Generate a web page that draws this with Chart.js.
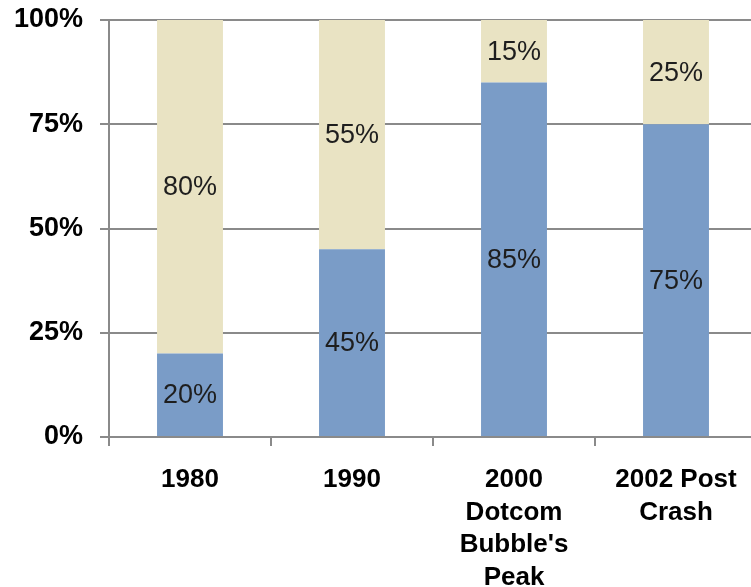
<!DOCTYPE html>
<html>
<head>
<meta charset="utf-8">
<script src="https://cdn.jsdelivr.net/npm/chart.js@4.4.1/dist/chart.umd.min.js"></script>
<style>
  html, body { margin: 0; padding: 0; background: #fff; overflow: hidden; }
  #wrap { position: relative; width: 757px; height: 587px; }
</style>
</head>
<body>
<div id="wrap"><canvas id="c"></canvas></div>
<script>
const categories = [["1980"], ["1990"], ["2000", "Dotcom", "Bubble's", "Peak"], ["2002 Post", "Crash"]];
const lowerValues = [20, 45, 85, 75];
const upperValues = [80, 55, 15, 25];
const yTicks = [0, 25, 50, 75, 100];

const FONT = "'Liberation Sans', Arial, sans-serif";

const labelPlugin = {
  id: 'segLabels',
  afterDatasetsDraw(chart) {
    const ctx = chart.ctx;
    ctx.save();
    ctx.font = "27px " + FONT;
    ctx.fillStyle = '#1e1e1e';
    ctx.textAlign = 'center';
    ctx.textBaseline = 'middle';
    chart.data.datasets.forEach((ds, di) => {
      const meta = chart.getDatasetMeta(di);
      meta.data.forEach((el, i) => {
        const y = (el.y + el.base) / 2;
        ctx.fillText(ds.data[i] + '%', el.x, y + 1);
      });
    });
    const xs = chart.scales.x;
    const ys = chart.scales.y;
    ctx.strokeStyle = '#8a8a8a';
    ctx.lineWidth = 2;
    ctx.beginPath();
    ctx.moveTo(ys.right, ys.getPixelForValue(0));
    ctx.lineTo(xs.right, ys.getPixelForValue(0));
    ctx.stroke();
    ctx.restore();
  }
};

new Chart(document.getElementById('c'), {
  type: 'bar',
  data: {
    labels: categories,
    datasets: [
      { data: lowerValues, backgroundColor: '#7a9cc7', borderWidth: 0,
        barPercentage: 0.407, categoryPercentage: 1.0 },
      { data: upperValues, backgroundColor: '#e9e3c3', borderWidth: 0,
        barPercentage: 0.407, categoryPercentage: 1.0 }
    ]
  },
  options: {
    responsive: true,
    maintainAspectRatio: false,
    animation: false,
    devicePixelRatio: 1,
    layout: { padding: { top: 20, right: 0, left: 0, bottom: 0 } },
    plugins: { legend: { display: false }, tooltip: { enabled: false } },
    scales: {
      x: {
        stacked: true,
        grid: { display: true, drawOnChartArea: false, drawTicks: true, tickLength: 9,
                color: '#8a8a8a', lineWidth: 2, offset: true },
        border: { display: true, color: '#8a8a8a', width: 2 },
        ticks: { color: '#000', padding: 18, maxRotation: 0, autoSkip: false,
                 font: { family: FONT, size: 26, weight: 'bold', lineHeight: 1.25 } },
        afterFit(scale) { scale.height = 150; scale.paddingLeft = 0; scale.paddingRight = 0; }
      },
      y: {
        stacked: true,
        min: 0, max: 100,
        afterBuildTicks(scale) { scale.ticks = yTicks.map(v => ({ value: v })); },
        grid: { color: '#8a8a8a', lineWidth: 2, tickLength: 9, drawTicks: true },
        border: { display: true, color: '#8a8a8a', width: 2 },
        ticks: { color: '#000', padding: 17, callback: v => v + '%',
                 font: { family: FONT, size: 27, weight: 'bold' } },
        afterFit(scale) { scale.width = 109; scale.paddingTop = 0; scale.paddingBottom = 0; }
      }
    }
  },
  plugins: [labelPlugin]
});
</script>
</body>
</html>
